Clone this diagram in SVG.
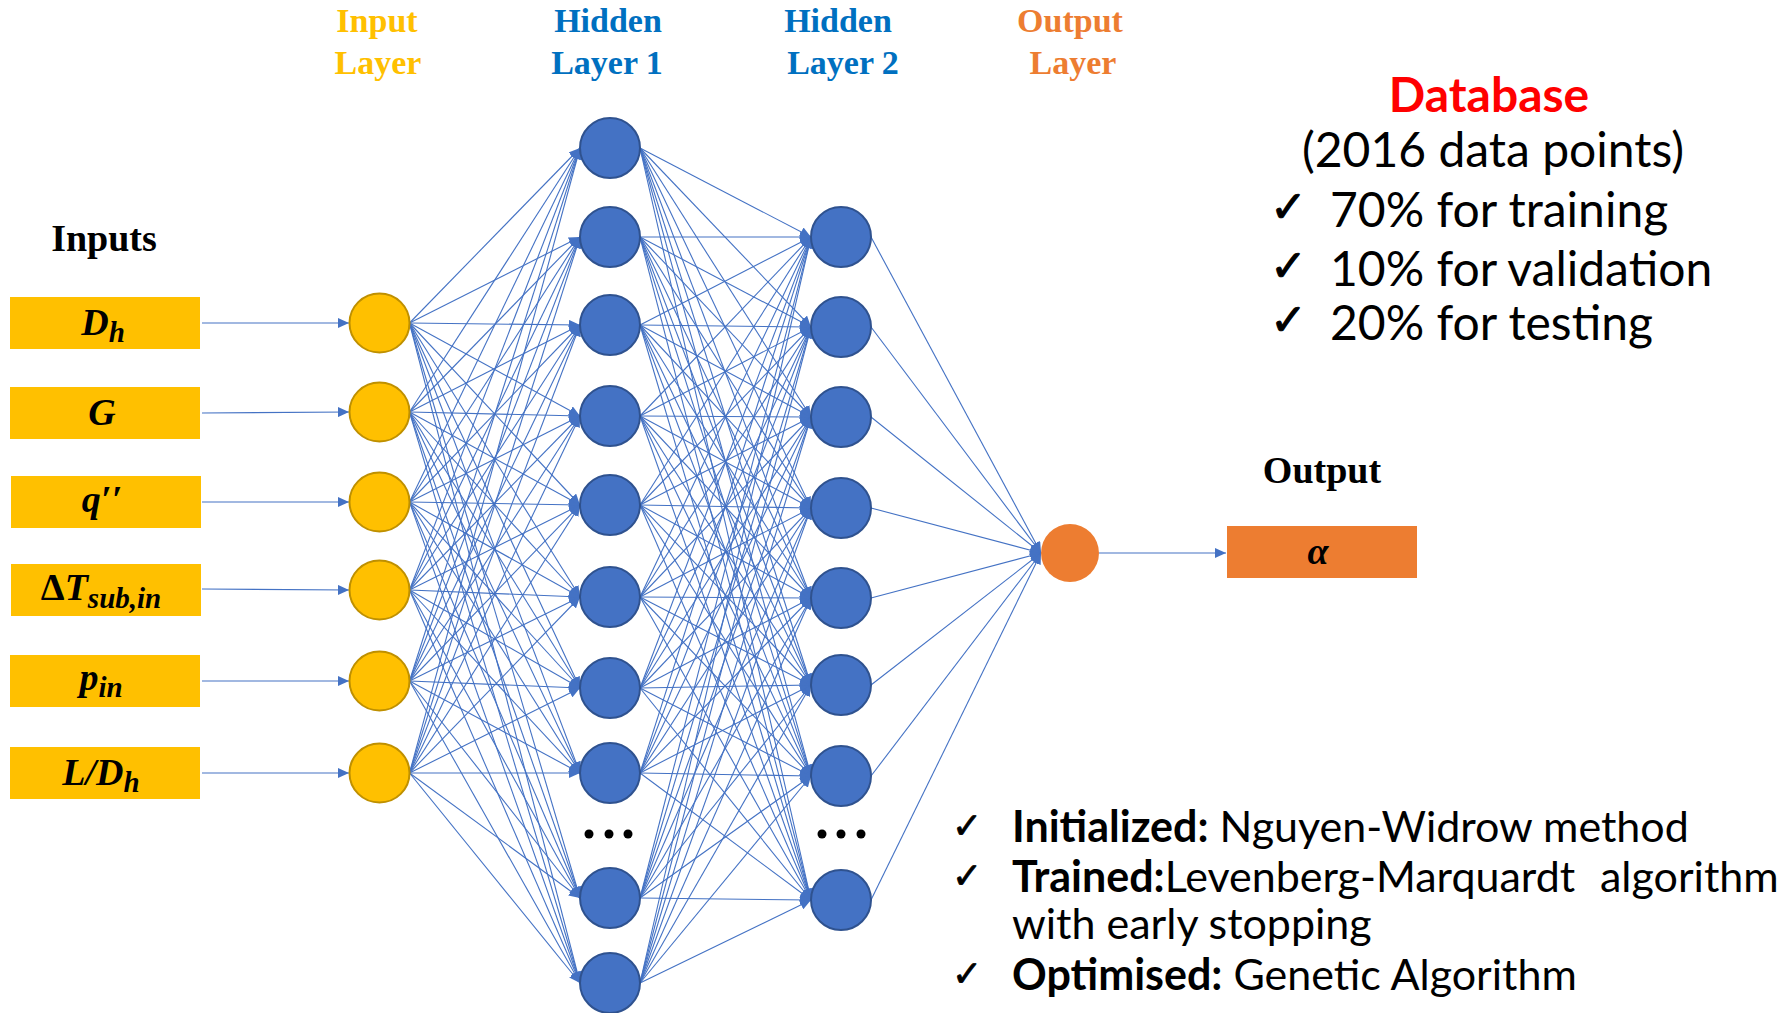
<svg xmlns="http://www.w3.org/2000/svg" width="1790" height="1013" viewBox="0 0 1790 1013">
<style>
.lbl{font-family:"Liberation Serif","Times New Roman",serif;font-weight:bold;font-size:34px;text-anchor:middle}
.math{font-family:"Liberation Serif","Times New Roman",serif;font-weight:bold;font-style:italic;font-size:38px;text-anchor:middle;fill:#000}
.sub{font-size:29px}
.inbox{fill:#FFC000}
.innode{fill:#FFC000;stroke:#BF9000;stroke-width:2}
.hnode{fill:#4472C4;stroke:#2F528F;stroke-width:2}
.dot{fill:#000}
.db{font-family:Lato,"Noto Sans",sans-serif;font-size:48px;fill:#000}
.ck{font-family:"DejaVu Sans",sans-serif;font-size:44px;fill:#000;stroke:#000;stroke-width:1}
.ck2{font-family:"DejaVu Sans",sans-serif;font-size:36px;fill:#000;stroke:#000;stroke-width:0.8}
.note{font-family:Lato,"Noto Sans",sans-serif;font-size:43px;fill:#000}
.b{font-weight:bold}
</style>
<defs>
<marker id="arr" viewBox="0 0 11 10" refX="11" refY="5" markerWidth="11" markerHeight="10" markerUnits="userSpaceOnUse" orient="auto"><path d="M0,0L11,5L0,10z" fill="#4472C4"/></marker>
</defs>
<rect width="1790" height="1013" fill="#fff"/>

<g id="connectors" fill="none" stroke="#4472C4" stroke-width="1.1" marker-end="url(#arr)">
<path d="M202 323L349 323"/>
<path d="M202 413L349 412"/>
<path d="M202 502L349 502"/>
<path d="M202 589L349 590"/>
<path d="M202 681L349 681"/>
<path d="M202 773L349 773"/>

<path d="M409.5 323L580 148"/><path d="M409.5 323L580 237"/><path d="M409.5 323L580 325"/><path d="M409.5 323L580 416"/><path d="M409.5 323L580 505"/><path d="M409.5 323L580 597"/><path d="M409.5 323L580 688"/><path d="M409.5 323L580 773"/><path d="M409.5 323L580 898"/><path d="M409.5 323L580 983"/>
<path d="M409.5 412L580 148"/><path d="M409.5 412L580 237"/><path d="M409.5 412L580 325"/><path d="M409.5 412L580 416"/><path d="M409.5 412L580 505"/><path d="M409.5 412L580 597"/><path d="M409.5 412L580 688"/><path d="M409.5 412L580 773"/><path d="M409.5 412L580 898"/><path d="M409.5 412L580 983"/>
<path d="M409.5 502L580 148"/><path d="M409.5 502L580 237"/><path d="M409.5 502L580 325"/><path d="M409.5 502L580 416"/><path d="M409.5 502L580 505"/><path d="M409.5 502L580 597"/><path d="M409.5 502L580 688"/><path d="M409.5 502L580 773"/><path d="M409.5 502L580 898"/><path d="M409.5 502L580 983"/>
<path d="M409.5 590L580 148"/><path d="M409.5 590L580 237"/><path d="M409.5 590L580 325"/><path d="M409.5 590L580 416"/><path d="M409.5 590L580 505"/><path d="M409.5 590L580 597"/><path d="M409.5 590L580 688"/><path d="M409.5 590L580 773"/><path d="M409.5 590L580 898"/><path d="M409.5 590L580 983"/>
<path d="M409.5 681L580 148"/><path d="M409.5 681L580 237"/><path d="M409.5 681L580 325"/><path d="M409.5 681L580 416"/><path d="M409.5 681L580 505"/><path d="M409.5 681L580 597"/><path d="M409.5 681L580 688"/><path d="M409.5 681L580 773"/><path d="M409.5 681L580 898"/><path d="M409.5 681L580 983"/>
<path d="M409.5 773L580 148"/><path d="M409.5 773L580 237"/><path d="M409.5 773L580 325"/><path d="M409.5 773L580 416"/><path d="M409.5 773L580 505"/><path d="M409.5 773L580 597"/><path d="M409.5 773L580 688"/><path d="M409.5 773L580 773"/><path d="M409.5 773L580 898"/><path d="M409.5 773L580 983"/>

<path d="M640 148L811 237"/><path d="M640 148L811 327"/><path d="M640 148L811 417"/><path d="M640 148L811 508"/><path d="M640 148L811 598"/><path d="M640 148L811 685"/><path d="M640 148L811 776"/><path d="M640 148L811 900"/>
<path d="M640 237L811 237"/><path d="M640 237L811 327"/><path d="M640 237L811 417"/><path d="M640 237L811 508"/><path d="M640 237L811 598"/><path d="M640 237L811 685"/><path d="M640 237L811 776"/><path d="M640 237L811 900"/>
<path d="M640 325L811 237"/><path d="M640 325L811 327"/><path d="M640 325L811 417"/><path d="M640 325L811 508"/><path d="M640 325L811 598"/><path d="M640 325L811 685"/><path d="M640 325L811 776"/><path d="M640 325L811 900"/>
<path d="M640 416L811 237"/><path d="M640 416L811 327"/><path d="M640 416L811 417"/><path d="M640 416L811 508"/><path d="M640 416L811 598"/><path d="M640 416L811 685"/><path d="M640 416L811 776"/><path d="M640 416L811 900"/>
<path d="M640 505L811 237"/><path d="M640 505L811 327"/><path d="M640 505L811 417"/><path d="M640 505L811 508"/><path d="M640 505L811 598"/><path d="M640 505L811 685"/><path d="M640 505L811 776"/><path d="M640 505L811 900"/>
<path d="M640 597L811 237"/><path d="M640 597L811 327"/><path d="M640 597L811 417"/><path d="M640 597L811 508"/><path d="M640 597L811 598"/><path d="M640 597L811 685"/><path d="M640 597L811 776"/><path d="M640 597L811 900"/>
<path d="M640 688L811 237"/><path d="M640 688L811 327"/><path d="M640 688L811 417"/><path d="M640 688L811 508"/><path d="M640 688L811 598"/><path d="M640 688L811 685"/><path d="M640 688L811 776"/><path d="M640 688L811 900"/>
<path d="M640 773L811 237"/><path d="M640 773L811 327"/><path d="M640 773L811 417"/><path d="M640 773L811 508"/><path d="M640 773L811 598"/><path d="M640 773L811 685"/><path d="M640 773L811 776"/><path d="M640 773L811 900"/>
<path d="M640 898L811 237"/><path d="M640 898L811 327"/><path d="M640 898L811 417"/><path d="M640 898L811 508"/><path d="M640 898L811 598"/><path d="M640 898L811 685"/><path d="M640 898L811 776"/><path d="M640 898L811 900"/>
<path d="M640 983L811 237"/><path d="M640 983L811 327"/><path d="M640 983L811 417"/><path d="M640 983L811 508"/><path d="M640 983L811 598"/><path d="M640 983L811 685"/><path d="M640 983L811 776"/><path d="M640 983L811 900"/>

<path d="M871 237L1041 553"/><path d="M871 327L1041 553"/><path d="M871 417L1041 553"/><path d="M871 508L1041 553"/><path d="M871 598L1041 553"/><path d="M871 685L1041 553"/><path d="M871 776L1041 553"/><path d="M871 900L1041 553"/>
<path d="M1099 553L1226 553"/>
</g>

<g id="layer-labels" class="lbl">
<text x="377" y="32" fill="#FFC000">Input</text>
<text x="378" y="74" fill="#FFC000">Layer</text>
<text x="608" y="32" fill="#0070C0">Hidden</text>
<text x="607" y="74" fill="#0070C0">Layer 1</text>
<text x="838" y="32" fill="#0070C0">Hidden</text>
<text x="843" y="74" fill="#0070C0">Layer 2</text>
<text x="1070" y="32" fill="#ED7D31">Output</text>
<text x="1073" y="74" fill="#ED7D31">Layer</text>
</g>

<text id="inputs-title" x="104" y="251" font-family="Liberation Serif, serif" font-weight="bold" font-size="38" text-anchor="middle">Inputs</text>
<text id="output-title" x="1322" y="483" font-family="Liberation Serif, serif" font-weight="bold" font-size="38" text-anchor="middle">Output</text>

<g id="box-Dh"><rect class="inbox" x="10" y="297" width="190" height="52"/><text class="math" x="103" y="335">D<tspan class="sub" dy="7">h</tspan></text></g>
<g id="box-G"><rect class="inbox" x="10" y="387" width="190" height="52"/><text class="math" x="102" y="425">G</text></g>
<g id="box-q"><rect class="inbox" x="11" y="476" width="190" height="52"/><text class="math" x="102" y="512">q′′</text></g>
<g id="box-dT"><rect class="inbox" x="11" y="564" width="190" height="52"/><text class="math" x="101" y="600"><tspan font-style="normal">Δ</tspan>T<tspan class="sub" dy="8">sub,in</tspan></text></g>
<g id="box-p"><rect class="inbox" x="10" y="655" width="190" height="52"/><text class="math" x="101" y="690">p<tspan class="sub" dy="7">in</tspan></text></g>
<g id="box-LDh"><rect class="inbox" x="10" y="747" width="190" height="52"/><text class="math" x="101" y="785">L/D<tspan class="sub" dy="7">h</tspan></text></g>

<g id="in1"><ellipse class="innode" cx="379.5" cy="323" rx="30" ry="29.5"/></g>
<g id="in2"><ellipse class="innode" cx="379.5" cy="412" rx="30" ry="29.5"/></g>
<g id="in3"><ellipse class="innode" cx="379.5" cy="502" rx="30" ry="29.5"/></g>
<g id="in4"><ellipse class="innode" cx="379.5" cy="590" rx="30" ry="29.5"/></g>
<g id="in5"><ellipse class="innode" cx="379.5" cy="681" rx="30" ry="29.5"/></g>
<g id="in6"><ellipse class="innode" cx="379.5" cy="773" rx="30" ry="29.5"/></g>

<g id="h1-1"><ellipse class="hnode" cx="610" cy="148" rx="30" ry="30"/></g>
<g id="h1-2"><ellipse class="hnode" cx="610" cy="237" rx="30" ry="30"/></g>
<g id="h1-3"><ellipse class="hnode" cx="610" cy="325" rx="30" ry="30"/></g>
<g id="h1-4"><ellipse class="hnode" cx="610" cy="416" rx="30" ry="30"/></g>
<g id="h1-5"><ellipse class="hnode" cx="610" cy="505" rx="30" ry="30"/></g>
<g id="h1-6"><ellipse class="hnode" cx="610" cy="597" rx="30" ry="30"/></g>
<g id="h1-7"><ellipse class="hnode" cx="610" cy="688" rx="30" ry="30"/></g>
<g id="h1-8"><ellipse class="hnode" cx="610" cy="773" rx="30" ry="30"/></g>
<g id="h1-dots"><circle class="dot" cx="589" cy="834" r="4.5"/><circle class="dot" cx="609" cy="834" r="4.5"/><circle class="dot" cx="628" cy="834" r="4.5"/></g>
<g id="h1-9"><ellipse class="hnode" cx="610" cy="898" rx="30" ry="30"/></g>
<g id="h1-10"><ellipse class="hnode" cx="610" cy="983" rx="30" ry="30"/></g>

<g id="h2-1"><ellipse class="hnode" cx="841" cy="237" rx="30" ry="30"/></g>
<g id="h2-2"><ellipse class="hnode" cx="841" cy="327" rx="30" ry="30"/></g>
<g id="h2-3"><ellipse class="hnode" cx="841" cy="417" rx="30" ry="30"/></g>
<g id="h2-4"><ellipse class="hnode" cx="841" cy="508" rx="30" ry="30"/></g>
<g id="h2-5"><ellipse class="hnode" cx="841" cy="598" rx="30" ry="30"/></g>
<g id="h2-6"><ellipse class="hnode" cx="841" cy="685" rx="30" ry="30"/></g>
<g id="h2-7"><ellipse class="hnode" cx="841" cy="776" rx="30" ry="30"/></g>
<g id="h2-dots"><circle class="dot" cx="822" cy="834" r="4.5"/><circle class="dot" cx="841" cy="834" r="4.5"/><circle class="dot" cx="861" cy="834" r="4.5"/></g>
<g id="h2-8"><ellipse class="hnode" cx="841" cy="900" rx="30" ry="30"/></g>

<g id="out-node"><circle cx="1070" cy="553" r="29" fill="#ED7D31"/></g>
<g id="out-box"><rect x="1227" y="526" width="190" height="52" fill="#ED7D31"/><text class="math" x="1318" y="564">α</text></g>

<g id="database">
<text x="1489" y="112" text-anchor="middle" font-family="Lato, sans-serif" font-weight="bold" font-size="48" fill="#FF0000">Database</text>
<text class="db" x="1493" y="167" text-anchor="middle">(2016 data points)</text>
<text class="ck" x="1270" y="222">✓</text><text class="db" x="1330" y="227">70% for training</text>
<text class="ck" x="1270" y="281">✓</text><text class="db" x="1330" y="286">10% for validation</text>
<text class="ck" x="1270" y="335">✓</text><text class="db" x="1330" y="340">20% for testing</text>
</g>

<g id="notes">
<text class="ck2" x="952" y="838">✓</text><text class="note" x="1012" y="842"><tspan class="b">Initialized:</tspan> Nguyen-Widrow method</text>
<text class="ck2" x="952" y="888">✓</text><text class="note" x="1012" y="892"><tspan class="b">Trained:</tspan>Levenberg-Marquardt <tspan x="1600">algorithm</tspan></text>
<text class="note" x="1012" y="939">with early stopping</text>
<text class="ck2" x="952" y="986">✓</text><text class="note" x="1012" y="990"><tspan class="b">Optimised:</tspan> Genetic Algorithm</text>
</g>
</svg>
